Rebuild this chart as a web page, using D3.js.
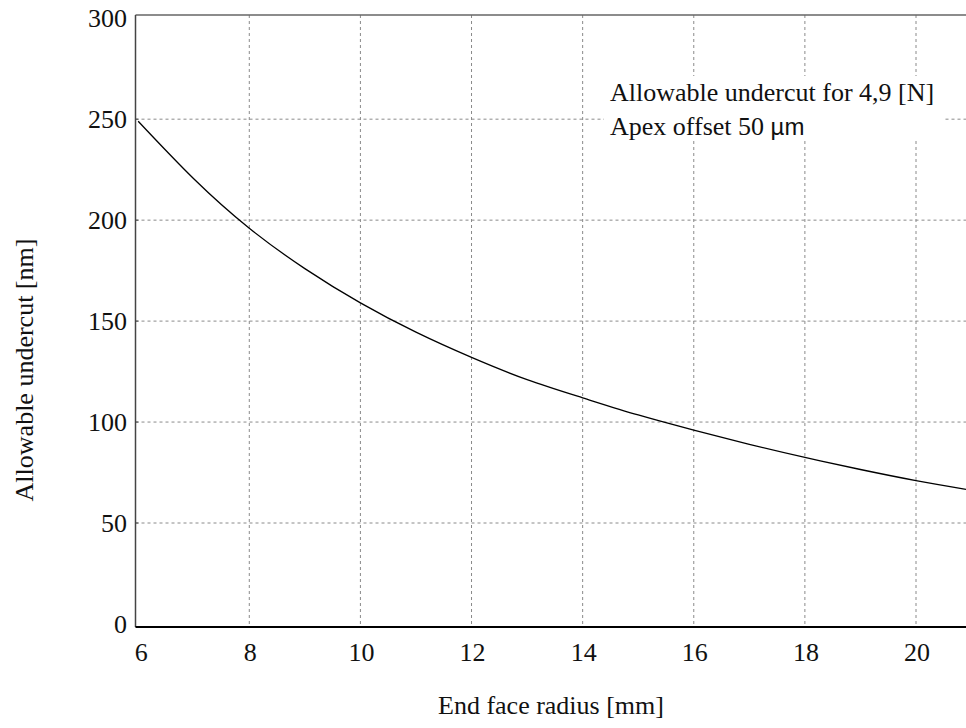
<!DOCTYPE html>
<html>
<head>
<meta charset="utf-8">
<script src="https://cdn.jsdelivr.net/npm/d3@7"></script>
<style>
  body { margin: 0; background: #fff; }
  svg { display: block; font-family: "Liberation Serif", "Times New Roman", serif; }
</style>
</head>
<body>
<div id="chart"></div>
<script>
// radius [mm] and allowable undercut [nm]
var radius   = [6, 7, 8, 9, 10, 11, 12, 13, 14, 15, 16, 17, 18, 19, 20, 20.9];
var undercut = [249, 220.5, 196, 176, 159, 144.5, 132, 121, 112, 103.5, 96, 89, 82.5, 76.5, 71, 66.7];
var xTicks = [6, 8, 10, 12, 14, 16, 18, 20];
var yTicks = [0, 50, 100, 150, 200, 250, 300];
var noteLines = ["Allowable undercut for 4,9 [N]", "Apex offset 50 "];

var width = 966, height = 728;
var fs = 26;

var svg = d3.select('#chart').append('svg')
  .attr('width', width)
  .attr('height', height);

var x = d3.scaleLinear().domain([5.952, 21]).range([135.5, 135.5 + (21 - 5.952) * 55.56]);
var y = d3.scaleLinear().domain([-1.5, 301.6]).range([627, 15]);

var x0 = x(5.952), x1 = x(21), y0 = y(-1.5), y1 = y(301.6);

// grid
svg.append('g').selectAll('line')
  .data(xTicks.filter(function(d) { return d > 6; }))
  .enter().append('line')
    .attr('x1', function(d) { return x(d); }).attr('x2', function(d) { return x(d); })
    .attr('y1', y1).attr('y2', y0)
    .attr('stroke', '#8a8a8a').attr('stroke-width', 1).attr('stroke-dasharray', '3,3');

svg.append('g').selectAll('line')
  .data(yTicks.filter(function(d) { return d > 0 && d < 300; }))
  .enter().append('line')
    .attr('x1', x0).attr('x2', x1)
    .attr('y1', function(d) { return y(d); }).attr('y2', function(d) { return y(d); })
    .attr('stroke', '#8a8a8a').attr('stroke-width', 1).attr('stroke-dasharray', '3,3');

// frame
svg.append('line').attr('x1', x0).attr('x2', x1).attr('y1', y1).attr('y2', y1)
  .attr('stroke', '#666').attr('stroke-width', 1.5);
svg.append('line').attr('x1', x0).attr('x2', x0).attr('y1', y1).attr('y2', y0)
  .attr('stroke', '#444').attr('stroke-width', 1.5);
svg.append('line').attr('x1', x0).attr('x2', x1).attr('y1', y0).attr('y2', y0)
  .attr('stroke', '#000').attr('stroke-width', 2);

// small inward ticks on the y axis
svg.append('g').selectAll('line')
  .data(yTicks.filter(function(d) { return d > 0 && d < 300; }))
  .enter().append('line')
    .attr('x1', x0).attr('x2', x0 + 3)
    .attr('y1', function(d) { return y(d); }).attr('y2', function(d) { return y(d); })
    .attr('stroke', '#444');

// tick labels
svg.append('g').selectAll('text')
  .data(yTicks)
  .enter().append('text')
    .attr('x', 127)
    .attr('y', function(d) { return y(d) + 9; })
    .attr('text-anchor', 'end')
    .attr('font-size', fs)
    .attr('fill', '#111')
    .text(function(d) { return d; });

svg.append('g').selectAll('text')
  .data(xTicks)
  .enter().append('text')
    .attr('x', function(d) { return x(d) + (d === 6 ? 3 : 1); })
    .attr('y', 661)
    .attr('text-anchor', 'middle')
    .attr('font-size', fs)
    .attr('fill', '#111')
    .text(function(d) { return d; });

// axis titles
svg.append('text')
  .attr('x', 551).attr('y', 714)
  .attr('text-anchor', 'middle')
  .attr('font-size', fs)
  .attr('fill', '#111')
  .text('End face radius [mm]');

svg.append('text')
  .attr('transform', 'translate(33,370) rotate(-90)')
  .attr('text-anchor', 'middle')
  .attr('font-size', fs)
  .attr('fill', '#111')
  .text('Allowable undercut [nm]');

// curve
var line = d3.line()
  .x(function(d, i) { return x(radius[i]); })
  .y(function(d) { return y(d); })
  .curve(d3.curveNatural);

svg.append('path')
  .datum(undercut)
  .attr('d', line)
  .attr('fill', 'none')
  .attr('stroke', '#000')
  .attr('stroke-width', 1.3);

// note with white background
svg.append('rect')
  .attr('x', 604).attr('y', 76).attr('width', 340).attr('height', 64)
  .attr('fill', '#fff');

var note = svg.append('text')
  .attr('font-size', fs)
  .attr('fill', '#111');
note.append('tspan').attr('x', 610).attr('y', 101).text(noteLines[0]);
note.append('tspan').attr('x', 610).attr('y', 135).text(noteLines[1]);
note.append('tspan')
  .attr('font-family', '"Liberation Sans", Arial, sans-serif')
  .attr('font-size', 24)
  .text('\u00b5m');
</script>
</body>
</html>
